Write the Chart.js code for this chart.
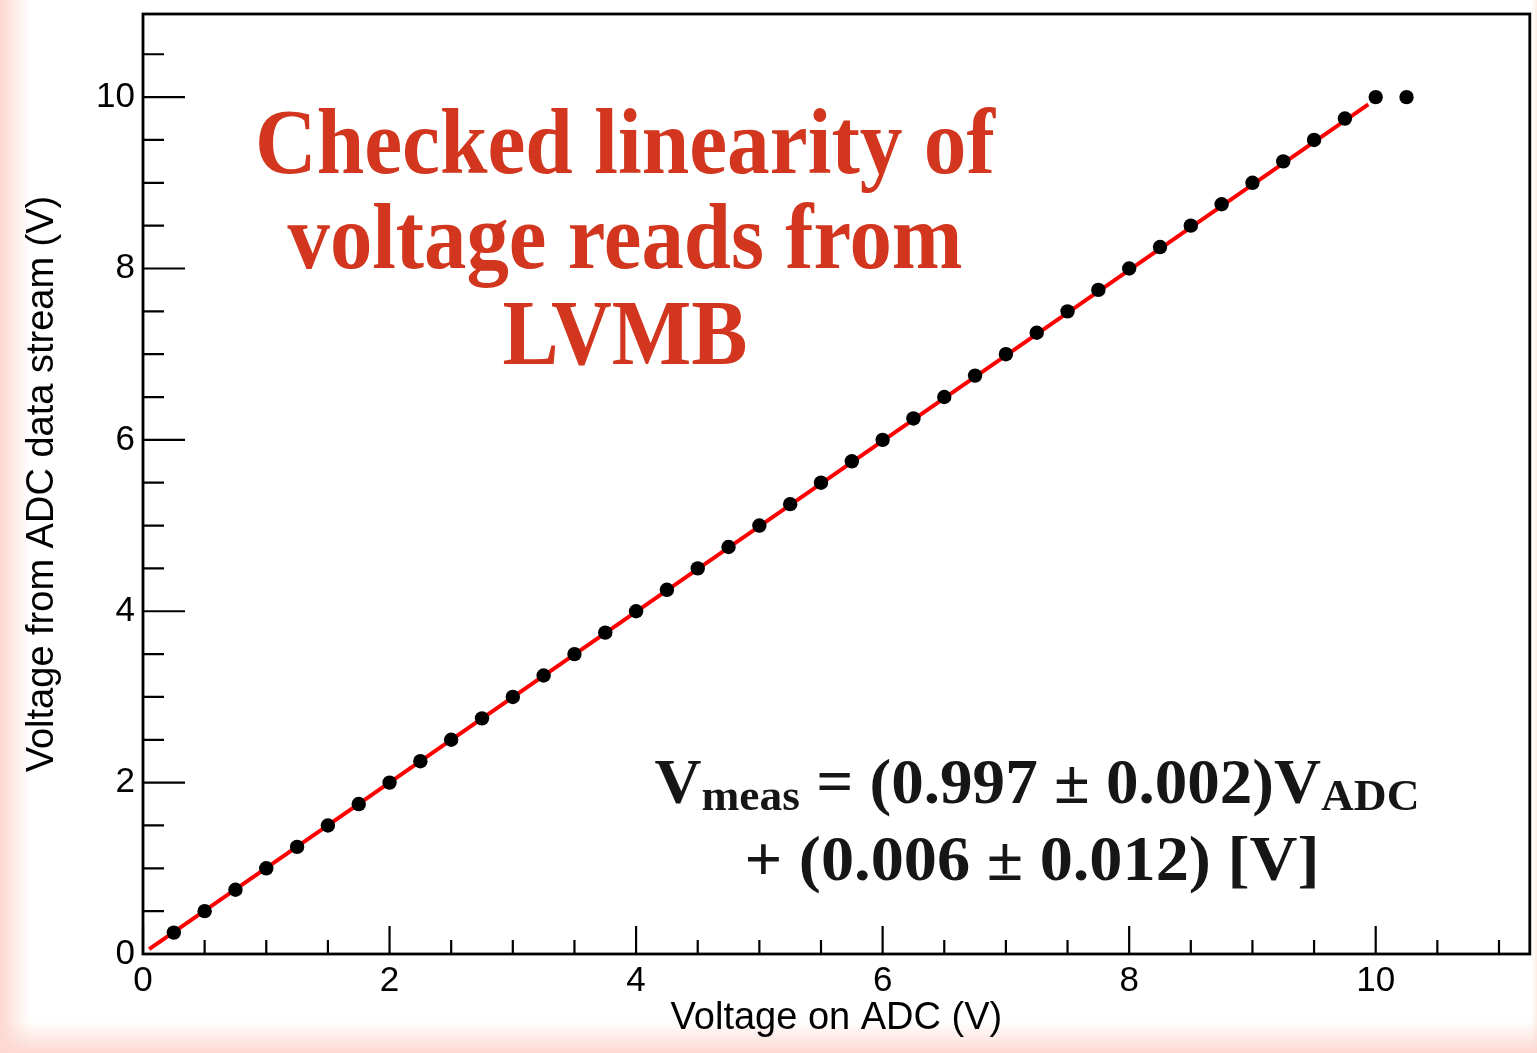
<!DOCTYPE html>
<html>
<head>
<meta charset="utf-8">
<script src="https://cdn.jsdelivr.net/npm/chart.js@4.4.0/dist/chart.umd.min.js"></script>
<style>
  html, body { margin: 0; padding: 0; }
  body {
    width: 1537px;
    height: 1053px;
    overflow: hidden;
    background:
      linear-gradient(to right, rgb(252, 216, 208), rgba(255, 255, 255, 0) 30px),
      linear-gradient(to top, rgb(252, 216, 208), rgba(255, 255, 255, 0) 32px),
      linear-gradient(to left, rgba(252, 224, 216, 0.6), rgba(255, 255, 255, 0) 6px),
      #fff;
  }
  #wrap { position: relative; width: 1537px; height: 1053px; }
</style>
</head>
<body>
<div id="wrap"><canvas id="chart" width="1537" height="1053"></canvas></div>
<script>
// 測定点 (ADC電圧 → データストリーム電圧)
const adcVoltage = [
  0.25, 0.5, 0.75, 1.0, 1.25, 1.5, 1.75, 2.0, 2.25, 2.5,
  2.75, 3.0, 3.25, 3.5, 3.75, 4.0, 4.25, 4.5, 4.75, 5.0,
  5.25, 5.5, 5.75, 6.0, 6.25, 6.5, 6.75, 7.0, 7.25, 7.5,
  7.75, 8.0, 8.25, 8.5, 8.75, 9.0, 9.25, 9.5, 9.75, 10.0,
  10.25
];
const streamVoltage = [
  0.25, 0.5, 0.75, 1.0, 1.25, 1.5, 1.75, 2.0, 2.25, 2.5,
  2.75, 3.0, 3.25, 3.5, 3.75, 4.0, 4.25, 4.5, 4.75, 5.0,
  5.25, 5.5, 5.75, 6.0, 6.25, 6.5, 6.75, 7.0, 7.25, 7.5,
  7.75, 8.0, 8.25, 8.5, 8.75, 9.0, 9.25, 9.5, 9.75, 10.0,
  10.0
];

// フィット直線の端点
const fitX = [0.05, 9.94];
const fitY = [0.056, 9.916];

// 軸の目盛り
const xTickValues = [0, 2, 4, 6, 8, 10];
const yTickValues = [0, 2, 4, 6, 8, 10];
const xRange = [0, 11.25];
const yRange = [0, 10.97];

// 注釈テキスト
const titleLines = ["Checked linearity of", "voltage reads from", "LVMB"];
const eqLine1 = [
  { t: "V", sub: false },
  { t: "meas", sub: true },
  { t: " = (0.997 \u00b1 0.002)V", sub: false },
  { t: "ADC", sub: true },
];
const eqLine2 = [{ t: "+ (0.006 \u00b1 0.012) [V]", sub: false }];

// 枠と内向きの目盛り線
const framePlugin = {
  id: "frame",
  afterDatasetsDraw(chart) {
    const { ctx, chartArea: a, scales } = chart;
    ctx.save();
    ctx.strokeStyle = "#000";
    ctx.lineWidth = 2.2;
    ctx.beginPath();
    for (let v = 0; v <= xRange[1] + 1e-9; v += 0.5) {
      const px = scales.x.getPixelForValue(v);
      const len = v % 2 === 0 ? 28 : 14;
      ctx.moveTo(px, a.bottom);
      ctx.lineTo(px, a.bottom - len);
    }
    for (let v = 0; v <= yRange[1] + 1e-9; v += 0.5) {
      const py = scales.y.getPixelForValue(v);
      const len = v % 2 === 0 ? 42 : 21;
      ctx.moveTo(a.left, py);
      ctx.lineTo(a.left + len, py);
    }
    ctx.stroke();
    ctx.lineWidth = 2.8;
    ctx.strokeRect(a.left, a.top, a.right - a.left, a.bottom - a.top);
    ctx.restore();
  },
};

function drawRuns(ctx, runs, cx, baseline, targetWidth, size, subSize, color) {
  const fontOf = (s) => "bold " + s + "px 'Liberation Serif', 'Times New Roman', serif";
  let total = 0;
  runs.forEach((r) => {
    ctx.font = fontOf(r.sub ? subSize : size);
    r.w = ctx.measureText(r.t).width;
    total += r.w;
  });
  const sx = targetWidth / total;
  ctx.save();
  ctx.translate(cx - targetWidth / 2, baseline);
  ctx.scale(sx, 1);
  ctx.fillStyle = color;
  ctx.textAlign = "left";
  ctx.textBaseline = "alphabetic";
  let x = 0;
  runs.forEach((r) => {
    ctx.font = fontOf(r.sub ? subSize : size);
    ctx.fillText(r.t, x, r.sub ? 7 : 0);
    x += r.w;
  });
  ctx.restore();
}

const textPlugin = {
  id: "notes",
  afterDraw(chart) {
    const ctx = chart.ctx;
    // タイトル (赤)
    const titleWidths = [740, 675, 245];
    const titleBase = [173, 268, 364];
    titleLines.forEach((line, i) => {
      drawRuns(ctx, [{ t: line, sub: false }], 625, titleBase[i], titleWidths[i], 93, 93, "#d2361e");
    });
    // フィット結果
    drawRuns(ctx, eqLine1, 1037, 803, 765, 63, 44, "#161616");
    drawRuns(ctx, eqLine2, 1032, 880, 575, 63, 44, "#161616");
  },
};

function setupChart() {
  const ctx = document.getElementById("chart").getContext("2d");
  const axisFont = { family: "'Liberation Sans', Arial, sans-serif", size: 35 };
  const titleFont = { family: "'Liberation Sans', Arial, sans-serif", size: 38 };

  new Chart(ctx, {
    type: "scatter",
    data: {
      datasets: [
        {
          label: "data",
          data: adcVoltage.map((x, i) => ({ x: x, y: streamVoltage[i] })),
          pointRadius: 7.2,
          pointBackgroundColor: "#000",
          pointBorderWidth: 0,
          showLine: false,
          order: 0,
        },
        {
          type: "line",
          label: "fit",
          data: fitX.map((x, i) => ({ x: x, y: fitY[i] })),
          borderColor: "#ff0000",
          borderWidth: 4,
          pointRadius: 0,
          fill: false,
          order: 1,
        },
      ],
    },
    options: {
      responsive: false,
      animation: false,
      layout: { padding: { left: 0, top: 14, right: 6, bottom: 0 } },
      plugins: { legend: { display: false }, tooltip: { enabled: false } },
      scales: {
        x: {
          type: "linear",
          min: xRange[0],
          max: xRange[1],
          afterBuildTicks: (s) => { s.ticks = xTickValues.map((v) => ({ value: v })); },
          afterFit: (s) => {
            s.height = 99;
            s.paddingLeft = 0;
            s.paddingRight = 0;
          },
          grid: { display: false, drawTicks: false },
          border: { display: false },
          ticks: { color: "#000", font: axisFont, padding: 6, maxRotation: 0, autoSkip: false },
          title: {
            display: true,
            text: "Voltage on ADC (V)",
            color: "#000",
            font: titleFont,
            padding: { top: 0, bottom: 12 },
          },
        },
        y: {
          type: "linear",
          min: yRange[0],
          max: yRange[1],
          afterBuildTicks: (s) => { s.ticks = yTickValues.map((v) => ({ value: v })); },
          afterFit: (s) => {
            s.width = 143;
            s.paddingTop = 0;
            s.paddingBottom = 0;
          },
          grid: { display: false, drawTicks: false },
          border: { display: false },
          ticks: { color: "#000", font: axisFont, padding: 8, autoSkip: false },
          title: {
            display: true,
            text: "Voltage from ADC data stream (V)",
            color: "#000",
            font: titleFont,
            padding: { top: 20, bottom: 0 },
          },
        },
      },
    },
    plugins: [framePlugin, textPlugin],
  });
}

document.addEventListener("DOMContentLoaded", setupChart);
</script>
</body>
</html>
